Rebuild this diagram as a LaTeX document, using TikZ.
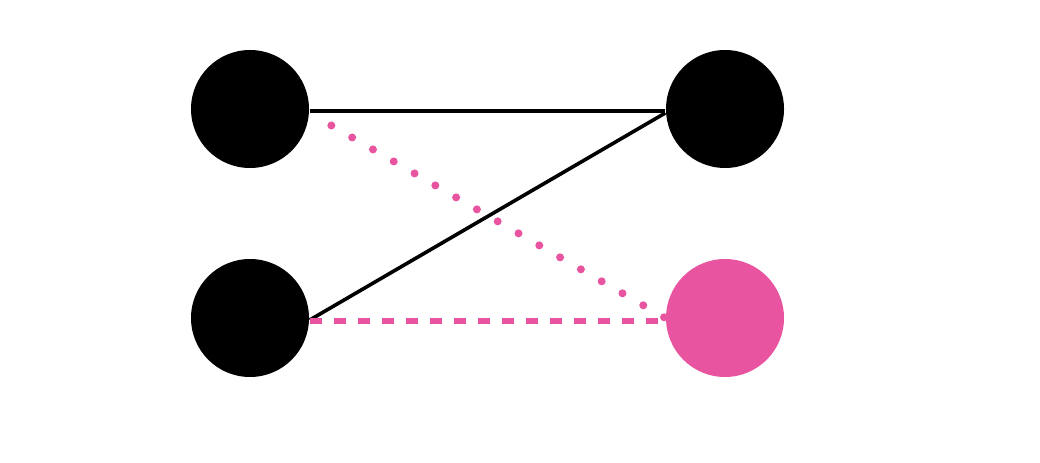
\documentclass[tikz,border=0pt]{standalone}
\definecolor{hotpink}{RGB}{233, 84, 160}
\usepackage{tikz}
\usetikzlibrary{positioning, calc}

\begin{document}
\begin{tikzpicture}[
    vertex/.style={circle, fill=black, inner sep=0pt, minimum size=1.18cm},
    edge/.style={line width=0.036cm, black},
    dashedge/.style={line width=0.055cm, hotpink, dash pattern=on 0.12cm off 0.12cm},
    dotedge/.style={line width=0.08cm, hotpink, line cap=round, dash pattern=on 0pt off 0.240cm}
  ]
  \useasboundingbox (0,0) rectangle (10.4,4.62);

  \node[vertex] (tl) at (2.50,3.53) {};
  \node[vertex] (tr) at (7.25,3.53) {};
  \node[vertex] (bl) at (2.50,1.44) {};
  \node[vertex, fill=hotpink] (br) at (7.25,1.44) {};

  % solid edges
  \draw[edge] ([yshift=-0.02cm]tl.east) -- ([yshift=-0.02cm]tr.west);
  \draw[edge] ([yshift=-0.02cm]bl.east) -- ([yshift=-0.04cm]tr.west);

  % pink edges
  \draw[dotedge, shorten <=0.25cm] ([yshift=-0.04cm]tl.east) -- (br.west);
  \draw[dashedge] ([yshift=-0.03cm]bl.east) -- ([yshift=-0.03cm]br.west);
\end{tikzpicture}
\end{document}
